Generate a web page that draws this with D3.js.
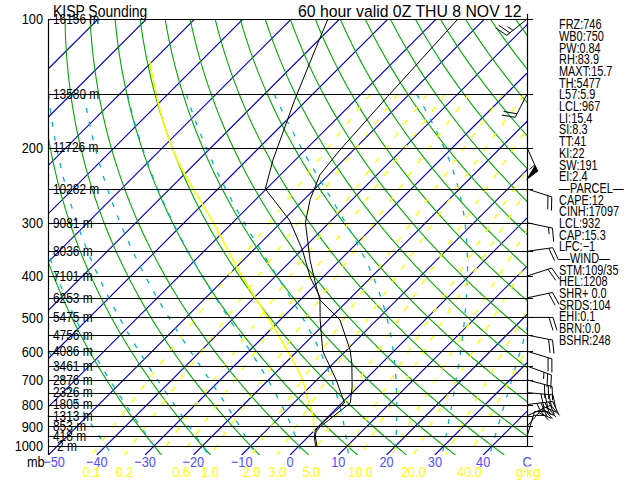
<!DOCTYPE html>
<html><head><meta charset="utf-8">
<script src="https://cdn.jsdelivr.net/npm/d3@7/dist/d3.min.js"></script>
<style>body{margin:0;background:#fff}svg{display:block}</style>
</head><body>
<script>
// ---------- data ----------
const levels = [100,150,200,250,300,350,400,450,500,550,600,650,700,750,800,850,900,950,1000];
const heights = ["16156 m","13580 m","11726 m","10282 m","9081 m","8036 m","7101 m","6253 m","5475 m","4756 m","4086 m","3461 m","2876 m","2326 m","1805 m","1313 m","853 m","418 m","-2 m"];
const pLabels = [100,200,300,400,500,600,700,800,900,1000];
const tLabels = [-50,-40,-30,-20,-10,0,10,20,30,40];
const wLabels = [0.1,0.2,0.6,1.0,2.0,3.0,5.0,10.0,20.0,40.0];
const mixLines = [0.1,0.2,0.4,0.6,1,2,3,5,8,10,15,20,30,40];
const moistTheta = [-40,-30,-20,-10,0,10,20,30,40,50];
// temperature profile (p mb, T C)
const tempP = [100,152,203,232,265,300,367,415,455,507,596,640,728,793,903,927,950,1000];
const tempT = [-55.5,-54.0,-52.8,-51.8,-48.7,-44.9,-36.2,-30.4,-25.9,-17.6,-9.3,-6.2,-1.2,1.7,0.4,0.6,1.4,3.7];
// dewpoint profile
const dewP = [100,111,155,214,250,296,348,402,448,507,600,700,793,903,927,950,1000];
const dewT = [-82.4,-80.1,-72.5,-64.6,-60.2,-48.7,-39.8,-32.7,-26.5,-21.7,-14.7,-6,0.5,0.0,0.4,1.2,3.4];
// lifted parcel path
const parP = [125,212,300,400,500,600,700,800,855,930];
const parT = [-110.8,-84.9,-64,-47,-33.1,-22,-13,-6.5,-3.1,0.3];
// winds
const windP = [100,150,200,250,300,350,400,450,500,550,600,650,700,750,800,850,900,950];
const windDir = [231,207,156,108,102,82,72,78,90,101,107,110,105,95,83,66,41,17];
const windSpd = [25,20,55,20,15,20,20,20,20,20,20,25,30,40,45,40,30,20];
// indices text
const stats = ["FRZ:746","WB0:750","PW:0.84","RH:83.9","MAXT:15.7","TH:5477","L57:5.9","LCL:967","LI:15.4","SI:8.3","TT:41","KI:22","SW:191","EI:2.4","\u2014PARCEL\u2014","CAPE:12","CINH:17097","LCL:932","CAP:15.3","LFC:\u22121","\u2014WIND\u2014","STM:109/35","HEL:1208","SHR+ 0.0","SRDS:104","EHI:0.1","BRN:0.0","BSHR:248"];

// ---------- geometry ----------
const L=48, R=527, TOP=19, BOT=455;
const y = d3.scaleLog().domain([100,1050]).range([TOP,BOT]);
const tx = d3.scaleLinear().domain([-50,50]).range([48.5,531.5]);
const X = (T,p) => tx(T) + (BOT - y(p));

const svg = d3.select("body").append("svg").attr("width",640).attr("height",480);
svg.append("defs").append("clipPath").attr("id","clip").append("rect")
  .attr("x",L).attr("y",TOP).attr("width",R-L).attr("height",BOT-TOP);
const g = svg.append("g").attr("clip-path","url(#clip)");
const line = d3.line().x(d=>X(d[1],d[0])).y(d=>y(d[0]));

const es = T => 6.112*Math.exp(17.67*T/(T+243.5));
const pGrid = d3.range(100,1051,5);

// isotherms
for (let T=-140; T<=50; T+=10) {
  g.append("path").attr("d", line([[100,T],[1050,T]]))
   .attr("stroke","#0000b8").attr("stroke-width",1.1).attr("fill","none");
}
// dry adiabats
for (let th=-30; th<=190; th+=10) {
  const pts = pGrid.map(p=>[p,(th+273.15)*Math.pow(p/1000,0.2857)-273.15]);
  g.append("path").attr("d", line(pts)).attr("stroke","#00aa00").attr("stroke-width",1.1).attr("fill","none");
}
// moist adiabats
function moist(tw){
  const Rd=287.04, cp=1005.7, Lv=2.501e6, eps=0.622;
  const f=(p,T)=>{const Tk=T+273.15, e=es(T), rs=eps*e/(p-e);
    return (Rd*Tk+Lv*rs)/(p*(cp+Lv*Lv*rs*eps/(Rd*Tk*Tk)));};
  const up=[], dn=[]; let T=tw;
  for (let p=1000;p>=150;p-=2){ up.push([p,T]); const k1=f(p,T),k2=f(p-1,T-k1),k3=f(p-1,T-k2),k4=f(p-2,T-2*k3); T-= 2*(k1+2*k2+2*k3+k4)/6; }
  T=tw;
  for (let p=1000;p<=1050;p+=2){ dn.push([p,T]); T+=2*f(p,T); }
  return up.reverse().concat(dn.slice(1));
}
moistTheta.forEach(tw=>{
  g.append("path").attr("d", line(moist(tw))).attr("stroke","#00b4c8").attr("stroke-width",1.3)
   .attr("stroke-dasharray","5,9").attr("fill","none");
});
// mixing ratio lines
mixLines.forEach(w=>{
  const pts = d3.range(150,1051,10).map(p=>{const e=w*p/(622+w), a=Math.log(e/6.112); return [p,243.5*a/(17.67-a)];});
  g.append("path").attr("d", line(pts)).attr("stroke","#ffff00").attr("stroke-width",1.4)
   .attr("stroke-dasharray","6,10").attr("fill","none");
});
// parcel
g.append("path").attr("d", d3.line().curve(d3.curveMonotoneY).x(d=>X(d[1],d[0])).y(d=>y(d[0]))(parP.map((p,i)=>[p,parT[i]])))
  .attr("stroke","#ffff00").attr("stroke-width",1.6).attr("fill","none");

// pressure lines
levels.forEach(p=>{
  svg.append("line").attr("x1",L).attr("x2",533).attr("y1",Math.round(y(p))+0.5).attr("y2",Math.round(y(p))+0.5)
    .attr("stroke","#000").attr("stroke-width",1.2);
});
// borders
svg.append("line").attr("x1",L+0.5).attr("x2",L+0.5).attr("y1",TOP).attr("y2",BOT).attr("stroke","#000").attr("stroke-width",1.2);
svg.append("line").attr("x1",R+0.5).attr("x2",R+0.5).attr("y1",14).attr("y2",y(1000)).attr("stroke","#000").attr("stroke-width",1.2);

// profiles
g.append("path").attr("d", line(tempP.map((p,i)=>[p,tempT[i]]))).attr("stroke","#000").attr("stroke-width",1).attr("fill","none");
g.append("path").attr("d", line(dewP.map((p,i)=>[p,dewT[i]]))).attr("stroke","#000").attr("stroke-width",1).attr("fill","none");

// wind barbs
windP.forEach((p,i)=>{
  const dir = windDir[i]*Math.PI/180, len=26;
  const ux=Math.sin(dir), uy=-Math.cos(dir);
  const x0=R, y0=y(p), x1=x0+ux*len, y1=y0+uy*len;
  let d=`M${x0},${y0}L${x1},${y1}`;
  const bx=-uy, by=ux; // clockwise perpendicular
  let s=windSpd[i], pos=0;
  const bl=13;
  while (s>=50){ const ax=x1-ux*pos, ay=y1-uy*pos, cx=x1-ux*(pos+6), cy=y1-uy*(pos+6);
    d+=`M${ax},${ay}L${ax+bx*bl+ux*3},${ay+by*bl+uy*3}L${cx},${cy}Z`; s-=50; pos+=7; }
  while (s>=10){ const ax=x1-ux*pos, ay=y1-uy*pos; d+=`M${ax},${ay}L${ax+bx*bl+ux*4},${ay+by*bl+uy*4}`; s-=10; pos+=4; }
  if (s>=5){ const ax=x1-ux*pos, ay=y1-uy*pos; d+=`M${ax},${ay}L${ax+bx*bl/2+ux*2},${ay+by*bl/2+uy*2}`; }
  svg.append("path").attr("d",d).attr("stroke","#000").attr("stroke-width",1).attr("fill","#000");
});

// texts
const font = "Liberation Sans, Arial, sans-serif";
function txt(s,x,yy,size,sx,color,anchor){
  return svg.append("text").text(s).attr("transform",`translate(${x},${yy}) scale(${sx},1)`)
    .attr("font-family",font).attr("font-size",size).attr("fill",color||"#000")
    .attr("text-anchor",anchor||"start").attr("dominant-baseline","central");
}
txt("KISP Sounding",53,11,17,0.82);
txt("60 hour   valid 0Z THU   8 NOV 12",298,11,17,0.93);
pLabels.forEach(p=>txt(String(p),43,y(p),15,0.85,"#000","end"));
levels.forEach((p,i)=>txt(heights[i],53,y(p),14,0.85));
txt("mb",27,462,15,0.85);
tLabels.forEach(T=>txt(T<0?"\u2212"+(-T):String(T),Math.max(tx(T),54),462,15,0.85,"#5050ff","middle"));
txt("C",527,462,15,0.85,"#5050ff","middle");
wLabels.forEach(w=>{const e=w*1050/(622+w), a=Math.log(e/6.112), T=243.5*a/(17.67-a);
  txt(w.toFixed(1),tx(T),472,15,0.85,"#ffff00","middle");});
txt("g/kg",528,472,15,0.85,"#ffff00","middle");
stats.forEach((s,i)=>txt(s,559,25+i*11.67,14,0.78));
</script>
</body></html>
